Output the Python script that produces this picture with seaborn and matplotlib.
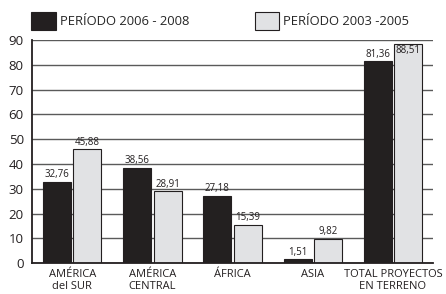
import matplotlib
matplotlib.use("Agg")
import matplotlib.pyplot as plt
import matplotlib.patches as mpatches
import seaborn as sns
import pandas as pd

categories = ["AMÉRICA\ndel SUR", "AMÉRICA\nCENTRAL", "ÁFRICA", "ASIA", "TOTAL PROYECTOS\nEN TERRENO"]
series_names = ["PERÍODO 2006 - 2008", "PERÍODO 2003 -2005"]
values_2006 = [32.76, 38.56, 27.18, 1.51, 81.36]
values_2003 = [45.88, 28.91, 15.39, 9.82, 88.51]
y_ticks = [0, 10, 20, 30, 40, 50, 60, 70, 80, 90]

colors = ["#231f20", "#e1e2e4"]

df = pd.DataFrame({
    "categoria": categories * 2,
    "periodo": [series_names[0]] * 5 + [series_names[1]] * 5,
    "valor": values_2006 + values_2003,
})

sns.set_style("white")
plt.rcParams["font.family"] = ["Open Sans", "DejaVu Sans"]

fig = plt.figure(figsize=(4.46, 2.94), dpi=100)
ax = fig.add_axes([0.072, 0.105, 0.899, 0.759])

sns.barplot(data=df, x="categoria", y="valor", hue="periodo", palette=colors,
            width=0.76, gap=0.08, edgecolor="#231f20", linewidth=0.8,
            legend=False, ax=ax)

ax.set_xlim(-0.5, 4.5)
ax.set_ylim(0, 90)
ax.set_yticks(y_ticks)
ax.set_axisbelow(True)
ax.yaxis.grid(True, color="#5a5a5a", linewidth=1.0)
ax.xaxis.grid(False)

for side in ["top", "right"]:
    ax.spines[side].set_visible(False)
for side in ["left", "bottom"]:
    ax.spines[side].set_color("#231f20")
    ax.spines[side].set_linewidth(1.3)

ax.set_xlabel("")
ax.set_ylabel("")
ax.tick_params(axis="x", which="major", length=0, labelsize=8, pad=4, labelcolor="#231f20")
ax.tick_params(axis="y", length=0, labelsize=9.5, pad=6, labelcolor="#231f20")
ax.set_xticks([i + 0.5 for i in range(5)], minor=True)
ax.tick_params(axis="x", which="minor", direction="in", length=4, width=1, color="#231f20")

# value labels
for cont, vals in zip(ax.containers, [values_2006, values_2003]):
    for bar, v in zip(cont, vals):
        x = bar.get_x() + bar.get_width() / 2
        txt = f"{v:.2f}".replace(".", ",")
        if v > 86:
            ax.text(x, v - 0.6, txt, ha="center", va="top", fontsize=7, color="#231f20")
        else:
            ax.text(x, v + 0.6, txt, ha="center", va="bottom", fontsize=7, color="#231f20")

handles = [mpatches.Patch(facecolor=c, edgecolor="#231f20", linewidth=0.8) for c in colors]
fig.legend(handles, series_names, loc="center left", bbox_to_anchor=(0.07, 0.929), ncol=2,
           frameon=False, fontsize=9.4, handlelength=1.9, handleheight=1.75,
           handletextpad=0.3, columnspacing=5.0, borderpad=0, borderaxespad=0)

fig.savefig("out.png", dpi=100)
